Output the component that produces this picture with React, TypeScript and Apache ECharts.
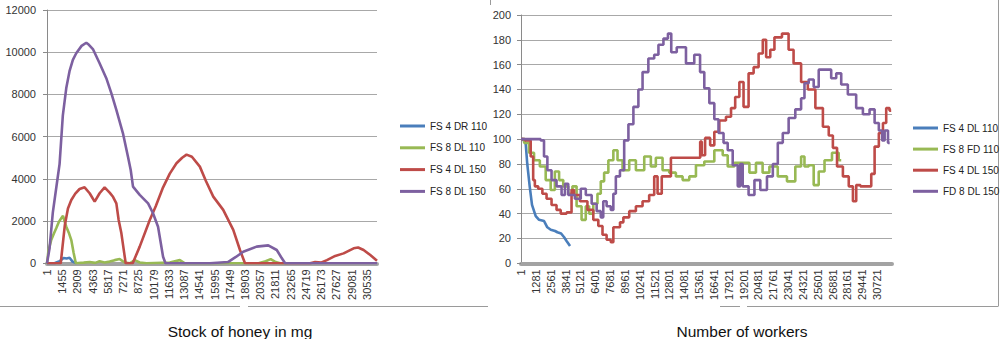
import React, { useEffect, useRef } from "react";
import * as echarts from "echarts";

// ---------- Left chart: Stock of honey in mg ----------
const honeyTicks = [1, 1455, 2909, 4363, 5817, 7271, 8725, 10179, 11633, 13087, 14541, 15995, 17449, 18903, 20357, 21811, 23265, 24719, 26173, 27627, 29081, 30535];
const honeyNames = ["FS 4 DR 110", "FS 8 DL 110", "FS 4 DL 150", "FS 8 DL 150"];

const honeyFS4DR110 = [[0, 0], [720, 0], [1200, 100], [1580, 250], [1870, 230], [2150, 260], [2440, 80], [2820, 0]];
const honeyFS8DL110 = [[0, 0], [140, 600], [400, 1100], [650, 1400], [880, 1660], [1120, 1950], [1360, 2130], [1530, 2250], [1700, 1950], [1840, 1735], [2080, 1450], [2320, 1100], [2540, 500], [2750, 0], [3500, 30], [4070, 60], [4600, 20], [5020, 100], [5500, 40], [5980, 80], [6460, 150], [6940, 200], [7420, 40], [7900, 0], [8380, 150], [8850, 40], [9500, 0], [11720, 40], [12680, 150], [13160, 0], [20200, 0], [20870, 100], [21350, 200], [21830, 60], [22250, 0], [23000, 0]];
const honeyFS4DL150 = [[0, 0], [1310, 0], [1700, 1800], [2000, 2600], [2320, 3000], [2700, 3300], [3110, 3520], [3590, 3600], [4070, 3320], [4550, 2920], [5020, 3320], [5500, 3600], [5980, 3350], [6300, 3150], [6620, 2840], [6840, 2050], [7100, 1420], [7510, 0], [8180, 0], [8850, 790], [9810, 2050], [10380, 2700], [11080, 3600], [11720, 4250], [12360, 4740], [12900, 5000], [13320, 5150], [13830, 5050], [14590, 4580], [15170, 3900], [15870, 3160], [16820, 2530], [17780, 1580], [18420, 630], [18900, 0], [25120, 0], [25600, 60], [26200, 40], [26720, 150], [27510, 350], [28310, 470], [29270, 710], [29700, 750], [30220, 630], [30860, 390], [31500, 120]];
const honeyFS8DL150 = [[0, 0], [240, 700], [555, 2400], [1030, 4100], [1200, 4700], [1510, 7000], [1840, 8300], [2150, 9100], [2470, 9640], [2790, 9950], [3300, 10300], [3750, 10450], [4000, 10350], [4380, 10150], [5020, 9480], [5660, 8770], [6140, 8060], [6620, 7270], [7250, 6160], [7730, 5050], [7990, 4420], [8210, 3630], [8850, 3240], [9650, 2840], [10120, 2370], [10600, 1735], [11080, 310], [11310, 0], [15550, 0], [17270, 60], [18030, 300], [18730, 550], [20010, 790], [21120, 850], [21930, 630], [22340, 300], [22730, 0], [31500, 0]];

// ---------- Right chart: Number of workers ----------
const workerTicks = [1, 1281, 2561, 3841, 5121, 6401, 7681, 8961, 10241, 11521, 12801, 14081, 15361, 16641, 17921, 19201, 20481, 21761, 23041, 24321, 25601, 26881, 28161, 29441, 30721];
const workerNames = ["FS 4 DL 110", "FS 8 FD 110", "FS 4 DL 150", "FD 8 DL 150"];

const workFS4DL110 = [[0, 100], [170, 100], [410, 96], [540, 80], [750, 62], [950, 47], [1270, 38], [1560, 35], [1990, 34], [2270, 29], [2570, 27], [2940, 26], [3140, 25], [3460, 24], [3720, 21], [3930, 18], [4230, 14]];
const workFS8FD110 = [[0, 100], [540, 97], [840, 89], [1410, 83], [1840, 78], [2420, 67], [2700, 59], [3140, 74], [3430, 67], [3860, 62], [4290, 56], [4580, 62], [5010, 46], [5440, 35], [5730, 46], [6020, 40], [6450, 48], [6740, 56], [7020, 66], [7320, 73], [7750, 83], [8180, 91], [8470, 83], [9050, 75], [9620, 83], [10200, 75], [11060, 86], [11340, 78], [11920, 85], [12500, 75], [13070, 73], [13650, 70], [14230, 67], [14800, 70], [15380, 79], [16240, 82], [17110, 91], [17690, 87], [17970, 78], [18840, 81], [19410, 81], [19990, 73], [20540, 81], [21140, 73], [21710, 78], [22580, 70], [23300, 66], [24020, 78], [24300, 86], [24600, 78], [25030, 79], [25460, 63], [25900, 74], [26460, 83], [27190, 89], [27620, 83]];
const workFS4DL150 = [[0, 100], [690, 99], [980, 86], [1120, 67], [1270, 62], [1700, 60], [1990, 56], [2420, 52], [2850, 47], [3280, 43], [3570, 40], [4290, 41], [4430, 59], [4730, 55], [5440, 50], [6020, 43], [6450, 35], [6890, 30], [7170, 23], [7600, 19], [7890, 17], [8040, 29], [8470, 29], [8610, 33], [9050, 37], [9620, 42], [10200, 46], [10770, 50], [11340, 55], [11640, 70], [11920, 56], [12360, 70], [13500, 85], [15380, 85], [15530, 98], [15660, 87], [16100, 101], [16530, 95], [16820, 106], [17390, 115], [17970, 118], [18260, 125], [18690, 134], [18980, 146], [19410, 126], [19850, 153], [20280, 158], [20710, 169], [21000, 180], [21290, 166], [21710, 172], [22010, 182], [23010, 185], [23150, 172], [23870, 161], [24450, 146], [25030, 140], [25750, 125], [26330, 110], [26760, 103], [27040, 93], [27480, 78], [28050, 70], [28490, 62], [28770, 50], [29060, 63], [29490, 62], [30070, 62], [30350, 72], [30650, 94], [31080, 105], [31360, 113], [31640, 125], [31930, 123]];
const workFD8DL150 = [[0, 100], [1560, 100], [1840, 99], [2130, 86], [2420, 75], [2850, 67], [3280, 62], [3720, 55], [3860, 64], [4290, 55], [5010, 52], [5300, 60], [5880, 55], [6310, 48], [6740, 42], [7020, 37], [7170, 50], [7600, 46], [7890, 43], [8040, 56], [8320, 70], [8750, 75], [9050, 99], [9480, 112], [9910, 126], [10340, 140], [10630, 154], [11340, 165], [11640, 168], [12070, 176], [12500, 181], [12850, 185], [13070, 170], [13800, 174], [14660, 161], [15230, 168], [15660, 154], [15960, 141], [16530, 129], [16820, 116], [17250, 105], [17690, 97], [17970, 91], [18550, 79], [18840, 62], [18980, 80], [19270, 62], [19990, 55], [20280, 67], [21000, 59], [21430, 70], [22010, 80], [22290, 97], [22870, 105], [23300, 117], [24020, 124], [24300, 133], [24600, 145], [25030, 148], [25460, 142], [25900, 156], [26610, 156], [26900, 149], [27480, 153], [27760, 144], [28620, 136], [29200, 125], [29780, 120], [30350, 124], [30650, 113], [31080, 107], [31220, 99], [31510, 107], [31800, 97]];

const COLORS = ["#4A7EBB", "#98B954", "#BE4B48", "#7D60A0"];
const FONT = "Liberation Sans";

function tickFormatter(labels: number[], step: number) {
  return (v: number) => {
    const i = Math.round(v / step);
    if (Math.abs(v - i * step) > 1) return "";
    return labels[i] !== undefined ? String(labels[i]) : "";
  };
}

function xAxisCfg(gridIndex: number, max: number, step: number, labels: number[]) {
  return {
    type: "value",
    gridIndex,
    min: 0,
    max,
    interval: step,
    splitLine: { show: false },
    axisTick: { show: false },
    axisLine: { show: true, lineStyle: { color: "#a3a3a3", width: 4 } },
    axisLabel: {
      rotate: 90,
      margin: 6,
      fontSize: 11,
      fontFamily: FONT,
      color: "#333",
      showMaxLabel: false,
      formatter: tickFormatter(labels, step),
    },
  };
}

function yAxisCfg(gridIndex: number, max: number, interval: number, margin: number) {
  return {
    type: "value",
    gridIndex,
    min: 0,
    max,
    interval,
    axisLine: { show: true, lineStyle: { color: "#8a8a8a", width: 1 } },
    axisTick: { show: true, length: 4, lineStyle: { color: "#8a8a8a" } },
    splitLine: { show: true, lineStyle: { color: "#a8a8a8", width: 1.2 } },
    axisLabel: {
      fontSize: 11,
      fontFamily: FONT,
      color: "#333",
      margin,
      formatter: (v: number) => String(v),
    },
  };
}

function legendCfg(data: string[], left: number, top: number, gap: number) {
  return {
    data,
    orient: "vertical",
    left,
    top,
    icon: "rect",
    itemWidth: 25,
    itemHeight: 3,
    itemGap: gap,
    selectedMode: false,
    textStyle: { fontSize: 10, fontFamily: FONT, color: "#222", lineHeight: 14 },
  };
}

export default function App() {
  const ref = useRef<HTMLDivElement>(null);
  useEffect(() => {
    document.body.style.margin = "0";
    const chart = echarts.init(ref.current!, null, { renderer: "svg" });
    const honeySeries = [honeyFS4DR110, honeyFS8DL110, honeyFS4DL150, honeyFS8DL150];
    const workSeries = [workFS4DL110, workFS8FD110, workFS4DL150, workFD8DL150];
    const series: any[] = [];
    honeySeries.forEach((d, i) => {
      series.push({
        type: "line",
        name: honeyNames[i],
        xAxisIndex: 0,
        yAxisIndex: 0,
        data: d,
        showSymbol: false,
        symbol: "none",
        color: COLORS[i],
        lineStyle: { width: 2.6, color: COLORS[i] },
      });
    });
    workSeries.forEach((d, i) => {
      series.push({
        type: "line",
        name: workerNames[i],
        xAxisIndex: 1,
        yAxisIndex: 1,
        data: d,
        step: i === 0 ? false : "middle",
        showSymbol: false,
        symbol: "none",
        color: COLORS[i],
        lineStyle: { width: 2.6, color: COLORS[i] },
      });
    });
    const lineStyle = { stroke: "#9a9a9a", lineWidth: 1 };
    chart.setOption({
      animation: false,
      backgroundColor: "#ffffff",
      grid: [
        { left: 47, top: 10, width: 330, height: 253.3, containLabel: false },
        { left: 521, top: 15, width: 371, height: 248.3, containLabel: false },
      ],
      xAxis: [xAxisCfg(0, 31500, 1454, honeyTicks), xAxisCfg(1, 32000, 1280, workerTicks)],
      yAxis: [yAxisCfg(0, 12000, 2000, 11), yAxisCfg(1, 200, 20, 10)],
      legend: [legendCfg(honeyNames, 395, 114, 7.8), legendCfg(workerNames, 908, 116, 7.1)],
      series,
      graphic: [
        { type: "line", shape: { x1: 0, y1: 306.5, x2: 240, y2: 306.5 }, style: lineStyle, silent: true },
        { type: "line", shape: { x1: 248, y1: 306.5, x2: 488, y2: 306.5 }, style: lineStyle, silent: true },
        { type: "line", shape: { x1: 720, y1: 306.5, x2: 740, y2: 306.5 }, style: lineStyle, silent: true },
        { type: "line", shape: { x1: 747, y1: 306.5, x2: 998, y2: 306.5 }, style: lineStyle, silent: true },
        { type: "line", shape: { x1: 998.5, y1: 0, x2: 998.5, y2: 306.5 }, style: lineStyle, silent: true },
        { type: "line", shape: { x1: 490.5, y1: 0, x2: 490.5, y2: 5 }, style: lineStyle, silent: true },
        {
          type: "text",
          x: 240,
          y: 331,
          style: { text: "Stock of honey in mg", fontSize: 15.5, fontFamily: FONT, fill: "#111", align: "center", verticalAlign: "middle" },
        },
        {
          type: "text",
          x: 742,
          y: 331,
          style: { text: "Number of workers", fontSize: 15.5, fontFamily: FONT, fill: "#111", align: "center", verticalAlign: "middle" },
        },
      ],
    });
    return () => chart.dispose();
  }, []);
  return <div ref={ref} style={{ width: 1000, height: 339 }} />;
}
